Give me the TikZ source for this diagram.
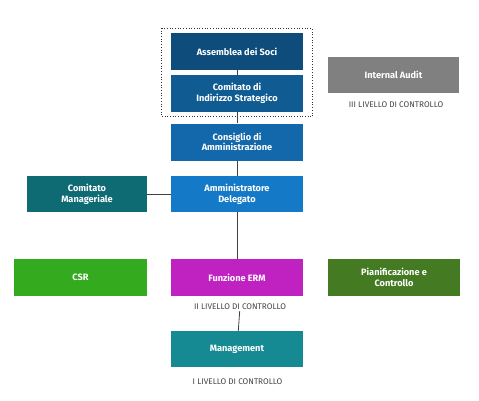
\documentclass[tikz,border=0pt]{standalone}
\usepackage{fontspec}
\setmainfont{Fira Sans}
\usetikzlibrary{fit}
\definecolor{asmblue}{HTML}{0E4C7C}
\definecolor{cisblue}{HTML}{105C92}
\definecolor{cdablue}{HTML}{1268AA}
\definecolor{adblue}{HTML}{1479C6}
\definecolor{cmteal}{HTML}{0E6B74}
\definecolor{iagrey}{HTML}{808080}
\definecolor{csrgreen}{HTML}{34AA1E}
\definecolor{ermpink}{HTML}{C022C2}
\definecolor{pcgreen}{HTML}{437A22}
\definecolor{mgteal}{HTML}{168A92}
\definecolor{lvlgrey}{HTML}{444444}
\begin{document}
\begin{tikzpicture}[x=1pt, y=-1pt,
    org/.style={minimum width=132pt, minimum height=37pt, inner sep=1pt,
      align=center, text=white, font=\fontsize{9.2}{10.6}\selectfont\bfseries},
    lvl/.style={text=lvlgrey, font=\fontsize{8.2}{9}\selectfont, inner sep=1pt},
    link/.style={draw=black!75, line width=0.8pt}]
  \useasboundingbox (0,0) rectangle (479,400);
  % vertice: assemblea e comitato di indirizzo
  \node[org, fill=asmblue] (asm) at (237,51.5) {Assemblea dei Soci};
  \node[org, fill=cisblue] (cis) at (237,93.5) {Comitato di\\Indirizzo Strategico};
  \node[draw=black!80, dotted, line width=0.7pt, inner xsep=9pt, inner ysep=4.5pt,
    fit=(asm) (cis)] (top) {};
  % consiglio e amministratore
  \node[org, fill=cdablue] (cda) at (237,142) {Consiglio di\\Amministrazione};
  \node[org, fill=adblue, minimum height=36pt] (ad) at (237,194) {Amministratore\\Delegato};
  \node[org, fill=cmteal, minimum width=120pt, minimum height=36pt] (cm) at (87,194) {Comitato\\Manageriale};
  % terzo livello
  \node[org, fill=iagrey, minimum width=131pt, minimum height=36pt] (ia) at (393.5,75) {Internal Audit};
  \node[lvl] (l3) at (396,105) {III LIVELLO DI CONTROLLO};
  % secondo livello
  \node[org, fill=csrgreen, minimum width=133pt] (csr) at (80.5,277.5) {CSR};
  \node[org, fill=ermpink] (erm) at (237,277.5) {Funzione ERM};
  \node[org, fill=pcgreen] (pc) at (394,277.5) {Pianificazione e\\Controllo};
  \node[lvl] (l2) at (240,307) {II LIVELLO DI CONTROLLO};
  % primo livello
  \node[org, fill=mgteal, minimum height=36pt] (mg) at (237,349) {Management};
  \node[lvl] (l1) at (237.5,382) {I LIVELLO DI CONTROLLO};
  % collegamenti
  \draw[link] (asm) -- (cis);
  \draw[link] (cis) -- (cda);
  \draw[link] (cda) -- (ad);
  \draw[link] (cm) -- (ad);
  \draw[link] (ad) -- (erm);
  \draw[link] (l2) -- (mg);
\end{tikzpicture}
\end{document}
